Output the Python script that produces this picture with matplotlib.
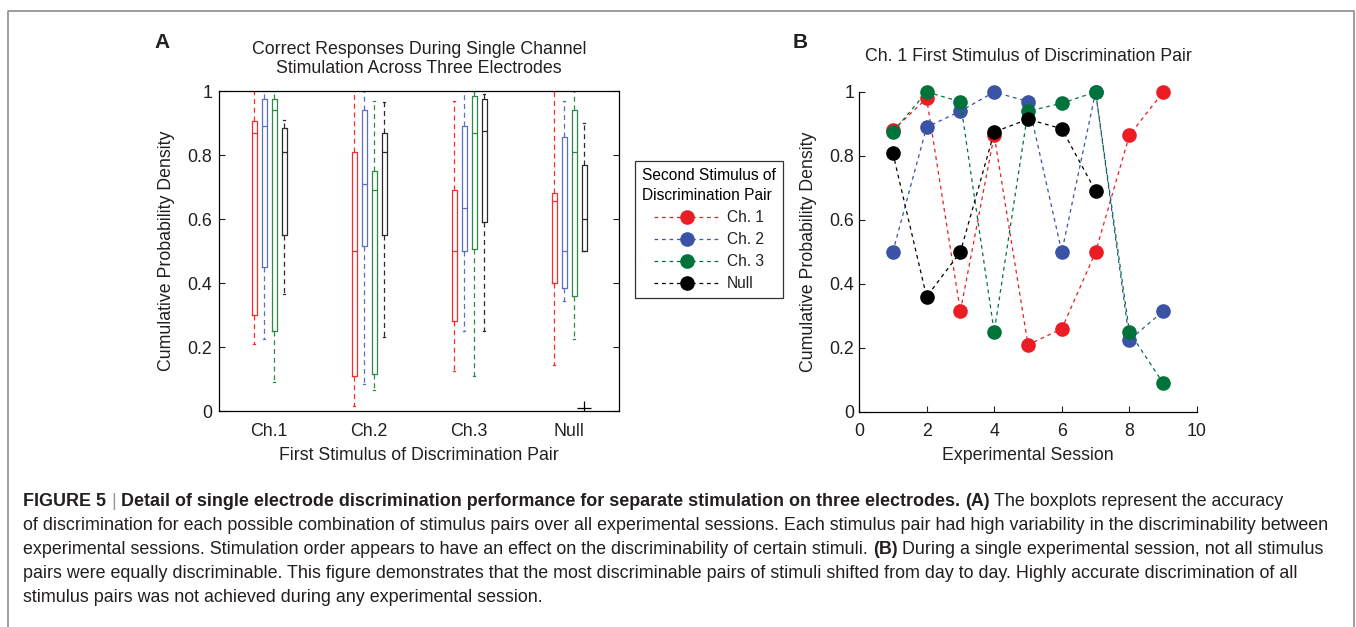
import numpy as np
import matplotlib
matplotlib.use("Agg")
import matplotlib.pyplot as plt
from matplotlib.lines import Line2D

plt.rcParams["font.family"] = ["Liberation Sans", "DejaVu Sans"]

W, H = 1356, 627
DPI = 100

# ------------------------------------------------------------
# data, panel A : box summaries per first stimulus (Ch.1, Ch.2, Ch.3, Null)
# one set of arrays per second stimulus
# ------------------------------------------------------------
first_stim = ["Ch.1", "Ch.2", "Ch.3", "Null"]
second_stim = ["Ch. 1", "Ch. 2", "Ch. 3", "Null"]

s1_low  = [0.21, 0.015, 0.125, 0.145]
s1_q1   = [0.30, 0.11, 0.28, 0.40]
s1_med  = [0.87, 0.50, 0.50, 0.655]
s1_q3   = [0.905, 0.81, 0.69, 0.68]
s1_high = [1.0, 1.0, 0.97, 1.0]

s2_low  = [0.225, 0.085, 0.25, 0.345]
s2_q1   = [0.45, 0.515, 0.50, 0.385]
s2_med  = [0.89, 0.71, 0.635, 0.50]
s2_q3   = [0.975, 0.94, 0.89, 0.855]
s2_high = [1.0, 1.0, 1.0, 0.97]

s3_low  = [0.09, 0.065, 0.11, 0.225]
s3_q1   = [0.25, 0.115, 0.505, 0.36]
s3_med  = [0.94, 0.69, 0.87, 0.81]
s3_q3   = [0.975, 0.75, 0.985, 0.94]
s3_high = [1.0, 0.97, 1.0, 1.0]

null_low  = [0.365, 0.23, 0.25, 0.50]
null_q1   = [0.55, 0.55, 0.59, 0.50]
null_med  = [0.81, 0.81, 0.875, 0.60]
null_q3   = [0.885, 0.87, 0.975, 0.77]
null_high = [0.91, 0.965, 0.99, 0.90]
null_fliers = [[], [], [], [0.01]]

# ------------------------------------------------------------
# data, panel B : Ch. 1 first stimulus, per session
# ------------------------------------------------------------
sessions = [1, 2, 3, 4, 5, 6, 7, 8, 9]
sessions_null = [1, 2, 3, 4, 5, 6, 7]
b_ch1 = [0.88, 0.98, 0.315, 0.865, 0.21, 0.26, 0.50, 0.865, 1.0]
b_ch2 = [0.50, 0.89, 0.94, 1.0, 0.97, 0.50, 1.0, 0.225, 0.315]
b_ch3 = [0.875, 1.0, 0.97, 0.25, 0.94, 0.965, 1.0, 0.25, 0.09]
b_null = [0.81, 0.36, 0.50, 0.875, 0.915, 0.885, 0.69]

# colours
dot_colors = ["#EC1C24", "#3A53A4", "#00733B", "#000000"]
box_colors = ["#FF2B2B", "#5A6FCB", "#2A8A46", "#2A2A2A"]
TXT = "#231F20"
FS = 12.8


def px_rect(x0, y0, x1, y1):
    return [x0 / W, 1 - y1 / H, (x1 - x0) / W, (y1 - y0) / H]


fig = plt.figure(figsize=(W / DPI, H / DPI), dpi=DPI)

# ============================================================
# panel A
# ============================================================
axA = fig.add_axes(px_rect(219, 91, 619, 411))

series = [
    (s1_low, s1_q1, s1_med, s1_q3, s1_high, [[], [], [], []]),
    (s2_low, s2_q1, s2_med, s2_q3, s2_high, [[], [], [], []]),
    (s3_low, s3_q1, s3_med, s3_q3, s3_high, [[], [], [], []]),
    (null_low, null_q1, null_med, null_q3, null_high, null_fliers),
]
offsets = [-0.15, -0.05, 0.05, 0.15]
dash = (0, (4, 3))

for k, (lo, q1, med, q3, hi, fl) in enumerate(series):
    stats = []
    for g in range(len(first_stim)):
        stats.append(dict(whislo=lo[g], q1=q1[g], med=med[g], q3=q3[g],
                          whishi=hi[g], fliers=fl[g]))
    pos = [g + 1 + offsets[k] for g in range(len(first_stim))]
    c = box_colors[k]
    axA.bxp(stats, positions=pos, widths=0.05, capwidths=0.025,
            manage_ticks=False,
            boxprops=dict(color=c, lw=0.9),
            medianprops=dict(color=c, lw=0.9),
            whiskerprops=dict(color=c, lw=0.9, linestyle=dash),
            capprops=dict(color=c, lw=0.9),
            flierprops=dict(marker="+", markersize=10, markeredgecolor="black",
                            markeredgewidth=0.9))

axA.set_xlim(0.5, 4.5)
axA.set_ylim(0, 1)
axA.set_xticks([1, 2, 3, 4])
axA.set_xticklabels(first_stim)
axA.set_yticks(np.arange(0, 1.01, 0.2))
axA.set_yticklabels(["0", "0.2", "0.4", "0.6", "0.8", "1"])
axA.tick_params(axis="x", length=0, labelsize=FS, pad=9, colors=TXT)
axA.tick_params(axis="y", direction="in", length=4, right=True, labelsize=FS,
                pad=5, colors=TXT)
for s in axA.spines.values():
    s.set_linewidth(0.9)
axA.set_title("Correct Responses During Single Channel\nStimulation Across Three Electrodes",
              fontsize=FS, pad=13, color=TXT, linespacing=1.15)
axA.set_xlabel("First Stimulus of Discrimination Pair", fontsize=FS, labelpad=5, color=TXT)
axA.set_ylabel("Cumulative Probability Density", fontsize=FS, labelpad=9, color=TXT)

# ============================================================
# panel B
# ============================================================
axB = fig.add_axes(px_rect(859, 92, 1197, 412))
b_lines = [(sessions, b_ch1), (sessions, b_ch2), (sessions, b_ch3), (sessions_null, b_null)]
for (xs, ys), c in zip(b_lines, dot_colors):
    axB.plot(xs, ys, color=c, linestyle=(0, (3, 3)), lw=0.9, marker="o",
             markersize=9.5, markerfacecolor=c, markeredgecolor=c, clip_on=False)

axB.set_xlim(0, 10)
axB.set_ylim(0, 1)
axB.set_xticks(np.arange(0, 11, 2))
axB.set_yticks(np.arange(0, 1.01, 0.2))
axB.set_yticklabels(["0", "0.2", "0.4", "0.6", "0.8", "1"])
axB.spines["top"].set_visible(False)
axB.spines["right"].set_visible(False)
for s in axB.spines.values():
    s.set_linewidth(0.9)
axB.tick_params(direction="in", length=4, labelsize=FS, colors=TXT)
axB.tick_params(axis="x", pad=8)
axB.set_title("Ch. 1 First Stimulus of Discrimination Pair", fontsize=FS, pad=22, color=TXT)
axB.set_xlabel("Experimental Session", fontsize=FS, labelpad=5, color=TXT)
axB.set_ylabel("Cumulative Probability Density", fontsize=FS, labelpad=9, color=TXT)

# legend shared by both panels
handles = [Line2D([], [], color=c, linestyle=(0, (3, 3)), lw=0.9, marker="o",
                  markersize=9.5, markerfacecolor=c, markeredgecolor=c)
           for c in dot_colors]
leg = fig.legend(handles, second_stim, loc="upper left",
                 bbox_to_anchor=(635 / W, 1 - 161 / H), borderaxespad=0,
                 title="Second Stimulus of\nDiscrimination Pair",
                 fontsize=11.2, title_fontsize=11.2, fancybox=False,
                 edgecolor="#333333", framealpha=1, handlelength=4.2,
                 handletextpad=0.5, labelspacing=0.45, borderpad=0.45,
                 numpoints=1)
leg.get_frame().set_linewidth(0.9)
leg.get_title().set_linespacing(1.45)
for t in leg.get_texts():
    t.set_color(TXT)

# panel letters
fig.text(154 / W, 1 - 43 / H, "A", fontsize=15, fontweight="bold", va="center", color=TXT)
fig.text(793 / W, 1 - 42 / H, "B", fontsize=15, fontweight="bold", va="center", color=TXT)

# outer frame (open at the bottom)
fx0, fx1, fy0 = 8 / W, 1354 / W, 1 - 11 / H
fig.add_artist(Line2D([fx0, fx0, fx1, fx1], [0, fy0, fy0, 0], color="#8C8C8C", lw=1.2))

# ============================================================
# caption
# ============================================================
fig.canvas.draw()
renderer = fig.canvas.get_renderer()
CAP = 12.9


def text_width(s, weight):
    t = fig.text(0, 0, s, fontsize=CAP, fontweight=weight)
    w = t.get_window_extent(renderer).width
    t.remove()
    return w


space = text_width("x x", "normal") - text_width("xx", "normal")


def draw_runs(y_px, runs, x_px=23):
    x = x_px
    for i, (txt, weight, color) in enumerate(runs):
        if i > 0:
            x += space
        t = fig.text(x / W, 1 - y_px / H, txt, fontsize=CAP, fontweight=weight,
                     color=color, va="center", ha="left")
        x += t.get_window_extent(renderer).width


B, N = "bold", "normal"
caption = [
    [("FIGURE 5", B, TXT), ("|", N, "#9A9A9A"),
     ("Detail of single electrode discrimination performance for separate stimulation on three electrodes.", B, TXT),
     ("(A)", B, TXT), ("The boxplots represent the accuracy", N, TXT)],
    [("of discrimination for each possible combination of stimulus pairs over all experimental sessions. "
      "Each stimulus pair had high variability in the discriminability between", N, TXT)],
    [("experimental sessions. Stimulation order appears to have an effect on the discriminability of certain stimuli.", N, TXT),
     ("(B)", B, TXT), ("During a single experimental session, not all stimulus", N, TXT)],
    [("pairs were equally discriminable. This figure demonstrates that the most discriminable pairs of stimuli "
      "shifted from day to day. Highly accurate discrimination of all", N, TXT)],
    [("stimulus pairs was not achieved during any experimental session.", N, TXT)],
]
for i, runs in enumerate(caption):
    draw_runs(502 + i * 23.8, runs)

fig.savefig("out.png", dpi=DPI)
